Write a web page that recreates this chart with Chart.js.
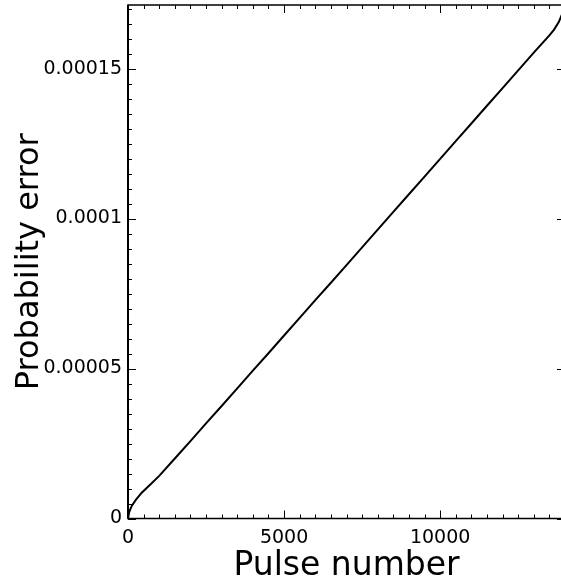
<!DOCTYPE html>
<html>
<head>
<meta charset="utf-8">
<script src="https://cdn.jsdelivr.net/npm/chart.js@4.4.1/dist/chart.umd.min.js"></script>
<style>
  html, body { margin: 0; padding: 0; background: #fff; overflow: hidden; }
  #wrap { width: 561px; height: 586px; overflow: hidden; position: relative; }
  canvas { display: block; }
</style>
</head>
<body>
<div id="wrap"><canvas id="chart" width="570" height="586"></canvas></div>
<script>
// values
const pulseNumber = [0, 40, 120, 250, 440, 700, 1000, 1500, 2000, 2500, 3000, 3500, 4000, 4500,
  5000, 5500, 6000, 6500, 7000, 7500, 8000, 8500, 9000, 9500, 10000, 10500, 11000, 11500,
  12000, 12500, 13000, 13500, 13650, 13800, 13900, 14000];
const probabilityError = [0, 2.2e-6, 4.2e-6, 6.2e-6, 8.6e-6, 1.12e-5, 1.42e-5, 2.00e-5, 2.58e-5,
  3.17e-5, 3.75e-5, 4.34e-5, 4.93e-5, 5.51e-5, 6.10e-5, 6.69e-5, 7.28e-5, 7.86e-5, 8.45e-5,
  9.04e-5, 9.63e-5, 1.022e-4, 1.081e-4, 1.140e-4, 1.199e-4, 1.258e-4, 1.317e-4, 1.376e-4,
  1.435e-4, 1.494e-4, 1.553e-4, 1.611e-4, 1.630e-4, 1.655e-4, 1.680e-4, 1.705e-4];
const xTicks = [0, 5000, 10000];
const yTicks = [0, 0.00005, 0.0001, 0.00015];
const yTickLabels = ["0", "0.00005", "0.0001", "0.00015"];

const X_MAX = 14000;
const Y_MAX = 0.0001712;
const FONT = "'DejaVu Sans', sans-serif";

// boxed frame with inward major/minor ticks on all four sides
const frameTicks = {
  id: "frameTicks",
  afterDraw(chart) {
    const { ctx, chartArea: a, scales: { x, y } } = chart;
    const seg = (x1, y1, x2, y2) => {
      ctx.beginPath();
      ctx.moveTo(x1, y1);
      ctx.lineTo(x2, y2);
      ctx.stroke();
    };
    ctx.save();
    ctx.strokeStyle = "#000";
    ctx.lineWidth = 1.5;
    ctx.strokeRect(a.left, a.top, a.right - a.left, a.bottom - a.top);
    ctx.lineWidth = 2;
    seg(a.left, a.top, a.left, a.bottom);
    ctx.lineWidth = 1;
    for (let v = 0; v <= X_MAX; v += 500) {
      const px = Math.round(x.getPixelForValue(v)) + 0.5;
      const len = v % 5000 === 0 ? 8 : 4;
      seg(px, a.bottom, px, a.bottom - len);
      seg(px, a.top, px, a.top + len);
    }
    for (let i = 0; i * 0.000005 <= Y_MAX; i++) {
      const py = Math.round(y.getPixelForValue(i * 0.000005)) + 0.5;
      const len = i % 10 === 0 ? 8 : 4;
      seg(a.left, py, a.left + len, py);
      seg(a.right, py, a.right - len, py);
    }
    ctx.restore();
  },
};

new Chart(document.getElementById("chart"), {
  type: "scatter",
  data: {
    datasets: [
      {
        data: pulseNumber.map((p, i) => ({ x: p, y: probabilityError[i] })),
        showLine: true,
        borderColor: "#000",
        borderWidth: 2,
        pointRadius: 0,
        tension: 0,
      },
    ],
  },
  options: {
    responsive: false,
    animation: false,
    layout: { padding: { left: 0, top: 5, right: 5, bottom: 0 } },
    plugins: { legend: { display: false }, tooltip: { enabled: false } },
    scales: {
      x: {
        type: "linear",
        min: 0,
        max: X_MAX,
        afterBuildTicks: (s) => { s.ticks = xTicks.map((v) => ({ value: v })); },
        afterFit: (s) => {
          s.height = 67.5;
          s.paddingLeft = 0;
          s.paddingRight = 0;
        },
        grid: { display: false, drawTicks: false },
        border: { display: false },
        ticks: {
          color: "#000",
          padding: 8,
          maxRotation: 0,
          font: { family: FONT, size: 19 },
          callback: (v) => String(v),
        },
        title: {
          display: true,
          text: "Pulse number",
          color: "#000",
          font: { family: FONT, size: 33 },
          padding: { top: 0, bottom: 0 },
        },
      },
      y: {
        min: 0,
        max: Y_MAX,
        afterBuildTicks: (s) => { s.ticks = yTicks.map((v) => ({ value: v })); },
        afterFit: (s) => {
          s.width = 128;
          s.paddingTop = 0;
          s.paddingBottom = 0;
        },
        grid: { display: false, drawTicks: false },
        border: { display: false },
        ticks: {
          color: "#000",
          padding: 6,
          font: { family: FONT, size: 19 },
          callback: (v) => {
            const i = yTicks.findIndex((t) => Math.abs(t - v) < 1e-9);
            return i >= 0 ? yTickLabels[i] : "";
          },
        },
        title: {
          display: true,
          text: "Probability error",
          color: "#000",
          font: { family: FONT, size: 32 },
          padding: { top: 10, bottom: 0 },
        },
      },
    },
  },
  plugins: [frameTicks],
});
</script>
</body>
</html>
